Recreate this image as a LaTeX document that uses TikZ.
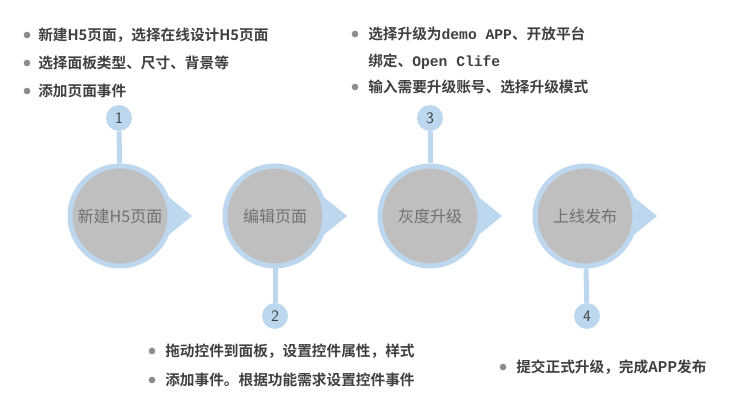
\documentclass[tikz,border=0pt]{standalone}
\usepackage{fontspec}
\newfontfamily\cjk{Noto Sans CJK SC}
\newfontfamily\cjkb{Noto Sans CJK SC Bold}
\newfontfamily\mono{Liberation Mono}
\definecolor{ring}{HTML}{BDD7EE}
\definecolor{disk}{HTML}{BFBFBF}
\definecolor{txt}{HTML}{404040}
\definecolor{dot}{HTML}{8C8C8C}
\begin{document}
\begin{tikzpicture}[x=0.75pt,y=-0.75pt,
  bigc/.style={circle,fill=disk,draw=ring,line width=3.75pt,minimum size=75pt,inner sep=0pt,text=dot!80!black,font=\cjk\fontsize{12}{14}\selectfont},
  numc/.style={circle,fill=ring,minimum size=19.5pt,inner sep=0pt,text=txt,font=\sffamily\fontsize{12}{14}\selectfont},
  stem/.style={ring,line width=3.75pt},
  item/.style={anchor=west,inner sep=0pt,text=txt,font=\cjkb\fontsize{11}{13}\selectfont},
  bul/.style={circle,fill=dot,minimum size=5pt,inner sep=0pt}]
\useasboundingbox (0,0) rectangle (746,402);
\foreach \n/\x/\t in {a/120/新建H5页面,b/275/编辑页面,c/430/灰度升级,d/585/上线发布}{
  \fill[ring] (\x+45,216-22) -- (\x+72,216) -- (\x+45,216+22) -- cycle;
  \node[bigc] (\n) at (\x,216) {\t};
}
\node[numc] (n1) at (119,118) {1};
\node[numc] (n2) at (275,316) {2};
\node[numc] (n3) at (430,118) {3};
\node[numc] (n4) at (587,316) {4};
\draw[stem] (n1) -- (a);
\draw[stem] (n2) -- (b);
\draw[stem] (n3) -- (c);
\draw[stem] (n4) -- (d);
% group 1
\node[bul] (b11) at (27,35) {}; \node[item] (t11) at (38,35) {新建H5页面，选择在线设计H5页面};
\node[bul] (b12) at (27,63) {}; \node[item] (t12) at (38,63) {选择面板类型、尺寸、背景等};
\node[bul] (b13) at (27,91) {}; \node[item] (t13) at (38,91) {添加页面事件};
% group 3
\node[bul] (b31) at (355,34) {}; \node[item] (t31) at (368,34) {选择升级为{\mono\bfseries demo APP}、开放平台};
\node[item] (t32) at (368,62) {绑定、{\mono\bfseries Open Clife}};
\node[bul] (b33) at (355,87) {}; \node[item] (t33) at (368,87) {输入需要升级账号、选择升级模式};
% group 2
\node[bul] (b21) at (152,351) {}; \node[item] (t21) at (165,351) {拖动控件到面板，设置控件属性，样式};
\node[bul] (b22) at (152,380) {}; \node[item] (t22) at (165,380) {添加事件。根据功能需求设置控件事件};
% group 4
\node[bul] (b41) at (503,367) {}; \node[item] (t41) at (516,367) {提交正式升级，完成APP发布};
\end{tikzpicture}
\end{document}
